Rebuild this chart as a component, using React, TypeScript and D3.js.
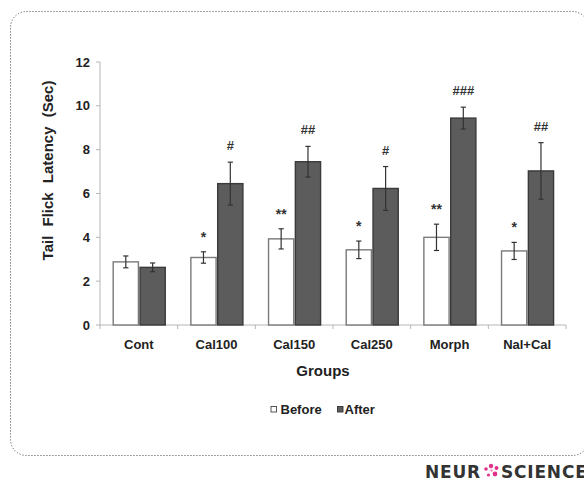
import React from 'react';
import * as d3 from 'd3';

const categories = ['Cont', 'Cal100', 'Cal150', 'Cal250', 'Morph', 'Nal+Cal'];
const seriesNames = ['Before', 'After'];
const beforeValues = [2.88, 3.08, 3.93, 3.43, 4.0, 3.38];
const beforeErrors = [0.27, 0.26, 0.46, 0.4, 0.6, 0.39];
const afterValues = [2.63, 6.45, 7.45, 6.23, 9.44, 7.03];
const afterErrors = [0.2, 0.98, 0.7, 1.0, 0.5, 1.29];
const beforeMarks = ['', '*', '**', '*', '**', '*'];
const afterMarks = ['', '#', '##', '#', '###', '##'];
const yTicks = [0, 2, 4, 6, 8, 10, 12];

const W = 584;
const H = 481;
const FONT = '"Liberation Sans", Arial, sans-serif';

export default function App() {
  const x = d3.scaleBand<string>().domain(categories).range([100, 566]).padding(0);
  const bw = x.bandwidth();
  const inner = d3
    .scaleBand<string>()
    .domain(seriesNames)
    .range([bw * 0.17, bw * 0.84])
    .paddingInner(0.06)
    .paddingOuter(0);
  const y = d3.scaleLinear().domain([0, 12]).range([325, 62]);

  const series = [
    { name: 'Before', values: beforeValues, errors: beforeErrors, marks: beforeMarks, fill: '#ffffff', stroke: '#7a7a7a' },
    { name: 'After', values: afterValues, errors: afterErrors, marks: afterMarks, fill: '#5c5c5c', stroke: '#3a3a3a' },
  ];

  const axisColor = '#b5b5b5';
  const cap = 2.6;

  return (
    <svg width={W} height={H} style={{ position: 'absolute', left: 0, top: 0, background: '#fff' }}>
      <rect x={10.5} y={11.5} width={578} height={444} rx={16} ry={16} fill="none" stroke="#444" strokeWidth={1} strokeDasharray="1,2" />

      {/* y axis */}
      <line x1={100} x2={100} y1={y(12)} y2={y(0)} stroke={axisColor} strokeWidth={1} />
      {yTicks.map((t) => (
        <g key={t}>
          <line x1={96} x2={100} y1={y(t)} y2={y(t)} stroke={axisColor} />
          <text x={90} y={y(t)} dy="0.35em" textAnchor="end" fontFamily={FONT} fontWeight="bold" fontSize={13} fill="#222">
            {t}
          </text>
        </g>
      ))}

      {/* x axis */}
      <line x1={100} x2={566} y1={y(0)} y2={y(0)} stroke={axisColor} />
      {categories.map((c, i) => (
        <line key={'t' + i} x1={x(c)!} x2={x(c)!} y1={y(0)} y2={y(0) + 4} stroke={axisColor} />
      ))}
      <line x1={566} x2={566} y1={y(0)} y2={y(0) + 4} stroke={axisColor} />

      {/* bars */}
      {series.map((s) =>
        categories.map((c, i) => {
          const bx = x(c)! + inner(s.name)!;
          const w = inner.bandwidth();
          const v = s.values[i];
          const e = s.errors[i];
          const cx = bx + w / 2;
          return (
            <g key={s.name + c}>
              <rect x={bx} y={y(v)} width={w} height={y(0) - y(v)} fill={s.fill} stroke={s.stroke} strokeWidth={1.4} />
              <line x1={cx} x2={cx} y1={y(v + e)} y2={y(v - e)} stroke="#333" strokeWidth={1.2} />
              <line x1={cx - cap} x2={cx + cap} y1={y(v + e)} y2={y(v + e)} stroke="#333" strokeWidth={1.2} />
              <line x1={cx - cap} x2={cx + cap} y1={y(v - e)} y2={y(v - e)} stroke="#333" strokeWidth={1.2} />
              {s.marks[i] && (
                <text
                  x={cx}
                  y={y(v + e) - (s.name === 'Before' ? 10 : 12)}
                  textAnchor="middle"
                  fontFamily={FONT}
                  fontWeight="bold"
                  fontSize={s.name === 'Before' ? 14 : 13}
                  fill="#333"
                >
                  {s.marks[i]}
                </text>
              )}
            </g>
          );
        })
      )}

      {/* category labels */}
      {categories.map((c) => (
        <text key={'l' + c} x={x(c)! + bw / 2} y={348.5} textAnchor="middle" fontFamily={FONT} fontWeight="bold" fontSize={13} fill="#222">
          {c}
        </text>
      ))}
      <text x={323} y={375.5} textAnchor="middle" fontFamily={FONT} fontWeight="bold" fontSize={15} fill="#222">
        Groups
      </text>

      <text
        transform={`translate(52.5,170.5) rotate(-90)`}
        textAnchor="middle"
        fontFamily={FONT}
        fontWeight="bold"
        fontSize={15}
        wordSpacing={5}
        fill="#222"
      >
        Tail Flick Latency (Sec)
      </text>

      {/* legend */}
      <rect x={271} y={406.5} width={5.5} height={5.5} fill="#fff" stroke="#444" strokeWidth={0.9} />
      <text x={280.5} y={413.5} fontFamily={FONT} fontWeight="bold" fontSize={13} fill="#222">Before</text>
      <rect x={337.5} y={406.5} width={5.5} height={5.5} fill="#5c5c5c" stroke="#333" strokeWidth={0.9} />
      <text x={344.5} y={413.5} fontFamily={FONT} fontWeight="bold" fontSize={13} fill="#222">After</text>

      {/* logo */}
      <text x={425} y={478} fontFamily='"DejaVu Sans", sans-serif' fontWeight="bold" fontSize={17} letterSpacing={0.8} fill="#333">NEUR</text>
      <g fill="#e0338a">
        <circle cx={491} cy={466} r={2.2} />
        <circle cx={496.5} cy={468} r={2} />
        <circle cx={486} cy={469} r={1.8} />
        <circle cx={495} cy={474} r={2.4} />
        <circle cx={488.5} cy={475} r={1.6} />
        <circle cx={491.5} cy={470.5} r={1.2} fill="#f08cbf" />
      </g>
      <text x={501} y={478} fontFamily='"DejaVu Sans", sans-serif' fontWeight="bold" fontSize={17} letterSpacing={0.8} fill="#333">SCIENCE</text>
    </svg>
  );
}
